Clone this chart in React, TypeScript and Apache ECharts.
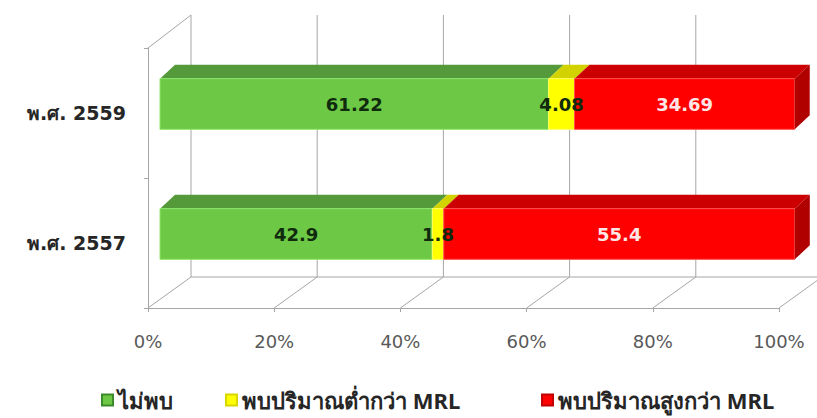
import React, { useEffect, useRef } from "react";
import * as echarts from "echarts";

const categories = ["พ.ศ. 2557", "พ.ศ. 2559"];
const seriesNames = ["ไม่พบ", "พบปริมาณต่ำกว่า MRL", "พบปริมาณสูงกว่า MRL"];
const notFound = [42.9, 61.22];
const belowMRL = [1.8, 4.08];
const aboveMRL = [55.4, 34.69];
const xTicks = [0, 20, 40, 60, 80, 100];

const FONT = "'Noto Sans', 'DejaVu Sans', sans-serif";
const WIDE = "'DejaVu Sans', 'Noto Sans', sans-serif";
const WALL_DX = 43;
const WALL_DY = 31;
const BAR_OX = 12;
const BAR_OY = -9;
const BAR_DX = 15;
const BAR_DY = 14;
const GRID_COL = "#a6a6a6";

const faces = [
  { front: "#6cc845", top: "#559a3a", side: "#3f7f28", stroke: "#8ee86a", label: "#0f2a0c", border: "#3d8a2a" },
  { front: "#ffff00", top: "#d2d200", side: "#b0b000", stroke: "#ffff66", label: "#0f2a0c", border: "#d8d800" },
  { front: "#ff0000", top: "#cc0000", side: "#b00000", stroke: "#ff5050", label: "#ffe6e6", border: "#c00000" },
];

function buildSegments(idx: number) {
  const all = [notFound, belowMRL, aboveMRL];
  return categories.map((_, ci) => {
    let start = 0;
    for (let k = 0; k < idx; k++) start += all[k][ci];
    const v = all[idx][ci];
    return [start, start + v, ci, v];
  });
}

function makeBarSeries(idx: number) {
  const f = faces[idx];
  const isLast = idx === 2;
  return {
    type: "custom",
    name: seriesNames[idx],
    clip: false,
    itemStyle: { color: f.front, borderColor: f.border, borderWidth: 1 },
    data: buildSegments(idx),
    z: 10,
    renderItem: (params: any, api: any) => {
      const cs = params.coordSys;
      const s = api.value(0);
      const e = api.value(1);
      const ci = api.value(2);
      const v = api.value(3);
      const p0 = api.coord([s, ci]);
      const p1 = api.coord([Math.min(e, 100), ci]);
      const scale = 1.006;
      const x0 = cs.x + BAR_OX + (p0[0] - cs.x) * scale;
      const x1 = cs.x + BAR_OX + (p1[0] - cs.x) * scale;
      const band = api.size([0, 1])[1];
      const h = band * 0.39;
      const yc = p0[1] + BAR_OY;
      const top = yc - h / 2;
      const bot = yc + h / 2;
      const children: any[] = [
        {
          type: "polygon",
          shape: { points: [[x0, top], [x0 + BAR_DX, top - BAR_DY], [x1 + BAR_DX, top - BAR_DY], [x1, top]] },
          style: { fill: f.top },
        },
        {
          type: "rect",
          shape: { x: x0, y: top, width: x1 - x0, height: h },
          style: { fill: f.front, stroke: f.stroke, lineWidth: 1 },
        },
      ];
      if (isLast) {
        children.push({
          type: "polygon",
          shape: { points: [[x1, top], [x1 + BAR_DX, top - BAR_DY], [x1 + BAR_DX, bot - BAR_DY], [x1, bot]] },
          style: { fill: f.side },
        });
      }
      children.push({
        type: "text",
        x: (x0 + x1) / 2,
        y: yc,
        style: {
          text: String(v),
          fill: f.label,
          font: `bold 18px ${WIDE}`,
          align: "center",
          verticalAlign: "middle",
        },
        z2: 20,
      });
      return { type: "group", children };
    },
  };
}

const wallSeries = {
  type: "custom",
  name: "wall",
  silent: true,
  clip: false,
  z: 1,
  data: xTicks.map((t) => [t, 0]),
  renderItem: (params: any, api: any) => {
    const cs = params.coordSys;
    const t = api.value(0);
    const xf = api.coord([t, 0])[0];
    const yb = cs.y + cs.height;
    const yTopBack = cs.y - WALL_DY - 2;
    const st = { stroke: GRID_COL, lineWidth: 1 };
    const children: any[] = [
      { type: "line", shape: { x1: xf, y1: yb, x2: xf + WALL_DX, y2: yb - WALL_DY }, style: st },
      { type: "line", shape: { x1: xf + WALL_DX, y1: yb - WALL_DY, x2: xf + WALL_DX, y2: yTopBack }, style: st },
    ];
    if (t === 0) {
      children.push(
        { type: "line", shape: { x1: xf, y1: cs.y, x2: xf + WALL_DX, y2: yTopBack }, style: st },
        { type: "line", shape: { x1: xf + WALL_DX, y1: yb - WALL_DY, x2: xf + WALL_DX + cs.width, y2: yb - WALL_DY }, style: st }
      );
    }
    return { type: "group", children };
  },
};

const legendLefts = [101, 225, 541];

export default function App() {
  const ref = useRef<HTMLDivElement>(null);
  useEffect(() => {
    if (!ref.current) return;
    const chart = echarts.init(ref.current, null, { renderer: "svg" });
    chart.setOption({
      animation: false,
      backgroundColor: "#ffffff",
      textStyle: { fontFamily: FONT },
      grid: { left: 148, right: 38, top: 48, bottom: 110, containLabel: false },
      xAxis: {
        type: "value",
        min: 0,
        max: 100,
        interval: 20,
        axisLine: { show: true, lineStyle: { color: GRID_COL } },
        axisTick: { show: true, length: 4, lineStyle: { color: GRID_COL } },
        splitLine: { show: false },
        axisLabel: { formatter: "{value}%", color: "#595959", fontSize: 18, margin: 24, fontFamily: WIDE },
      },
      yAxis: {
        type: "category",
        data: categories,
        axisLine: { show: true, lineStyle: { color: GRID_COL } },
        axisTick: { show: true, length: 4, lineStyle: { color: GRID_COL } },
        splitLine: { show: false },
        axisLabel: { color: "#262626", fontSize: 19, fontWeight: "bold", margin: 22, fontFamily: WIDE },
      },
      legend: seriesNames.map((n, i) => ({
        data: [n],
        left: legendLefts[i],
        top: 380,
        padding: 0,
        itemWidth: 11,
        itemHeight: 11,
        icon: "rect",
        textStyle: { color: "#262626", fontSize: 22, fontWeight: "bold", fontFamily: FONT, lineHeight: 40 },
      })),
      series: [wallSeries, makeBarSeries(0), makeBarSeries(1), makeBarSeries(2)],
    });
    return () => chart.dispose();
  }, []);
  return <div ref={ref} style={{ position: "absolute", left: 0, top: 0, width: 817, height: 418 }} />;
}
